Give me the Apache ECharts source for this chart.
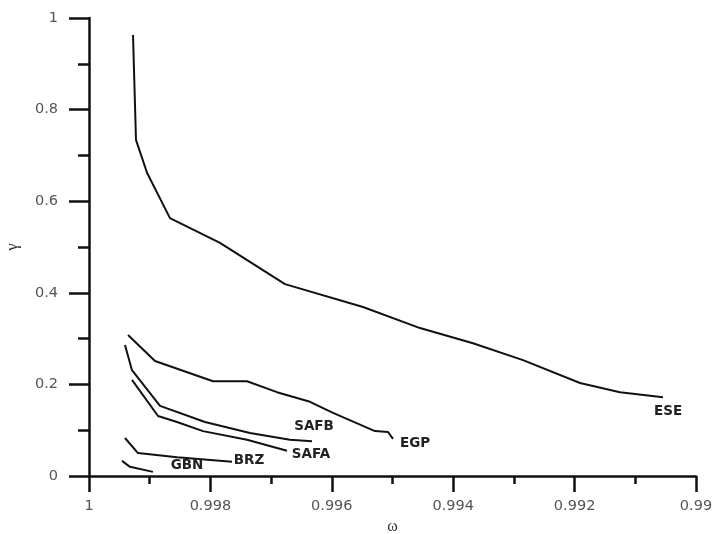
<!DOCTYPE html>
<html>
<head>
<meta charset="utf-8">
<script src="https://cdn.jsdelivr.net/npm/echarts@6/dist/echarts.min.js"></script>
<style>html,body{margin:0;padding:0;background:#fff}#c{width:712px;height:534px}</style>
</head>
<body>
<div id="c"></div>
<script>
// series values: [omega, gamma]
const ESE = [[0.999275,0.963],[0.999226,0.734],[0.999044,0.662],[0.998666,0.563],[0.997842,0.509],[0.996771,0.419],[0.995486,0.369],[0.994547,0.323],[0.993674,0.290],[0.992850,0.253],[0.991911,0.203],[0.991252,0.183],[0.990544,0.172]];
const EGP = [[0.999357,0.308],[0.998913,0.251],[0.997957,0.207],[0.997397,0.207],[0.996903,0.183],[0.996359,0.162],[0.995980,0.138],[0.995288,0.098],[0.995074,0.096],[0.994992,0.081]];
const SAFB = [[0.999407,0.286],[0.999292,0.231],[0.998830,0.153],[0.998089,0.118],[0.997348,0.094],[0.996689,0.079],[0.996326,0.076]];
const SAFA = [[0.999292,0.210],[0.998863,0.131],[0.998550,0.118],[0.998122,0.098],[0.997397,0.079],[0.996738,0.055]];
const BRZ = [[0.999407,0.083],[0.999193,0.050],[0.998550,0.041],[0.997644,0.031]];
const GBN = [[0.999456,0.033],[0.999325,0.020],[0.998946,0.009]];
const seriesNames = ['ESE','EGP','SAFB','SAFA','BRZ','GBN'];
const seriesData = [ESE, EGP, SAFB, SAFA, BRZ, GBN];
// label anchor positions in data space
const labelPos = [[0.990461,0.140],[0.994629,0.072],[0.996293,0.107],[0.996343,0.046],[0.997364,0.033],[0.998386,0.022]];
const xTicks = {min:0.99, max:1, interval:0.002};
const yTicks = {min:0, max:1, interval:0.2};

const chart = echarts.init(document.getElementById('c'));
const series = seriesData.map((d,i)=>({
  name: seriesNames[i], type:'line', data:d, symbol:'none', smooth:false,
  lineStyle:{color:'#111', width:2}, silent:true, animation:false,
  markPoint:{symbol:'circle', symbolSize:0, animation:false,
    data:[{coord:labelPos[i], value:seriesNames[i],
      label:{show:true, formatter:seriesNames[i], position:'inside', color:'#222',
        fontFamily:'DejaVu Sans, sans-serif', fontWeight:'bold', fontSize:13.5}}]}
}));
chart.setOption({
  animation:false,
  grid:{left:89, right:16, top:18, bottom:58, outerBoundsMode:'none', containLabel:false},
  xAxis:{type:'value', inverse:true, min:xTicks.min, max:xTicks.max, interval:xTicks.interval,
    name:'ω', nameLocation:'middle', nameGap:38,
    nameTextStyle:{fontFamily:'Liberation Serif, Times New Roman, serif', fontSize:16, color:'#333'},
    axisLine:{show:true, onZero:false, lineStyle:{color:'#111', width:2.5}},
    axisTick:{show:true, length:16, lineStyle:{color:'#111', width:2.5}},
    minorTick:{show:true, splitNumber:2, length:8, lineStyle:{color:'#111', width:2.5}},
    splitLine:{show:false},
    axisLabel:{margin:23, color:'#555', fontSize:14.5, fontFamily:'DejaVu Sans, sans-serif',
      formatter:v=>String(parseFloat(v.toFixed(3)))}
  },
  yAxis:{type:'value', min:yTicks.min, max:yTicks.max, interval:yTicks.interval,
    name:'γ', nameLocation:'middle', nameGap:68,
    nameTextStyle:{fontFamily:'Liberation Serif, Times New Roman, serif', fontSize:17, color:'#333'},
    axisLine:{show:true, onZero:false, lineStyle:{color:'#111', width:2.5}},
    axisTick:{show:true, length:20, lineStyle:{color:'#111', width:2.5}},
    minorTick:{show:true, splitNumber:2, length:11, lineStyle:{color:'#111', width:2.5}},
    splitLine:{show:false},
    axisLabel:{margin:31, color:'#555', fontSize:14.5, fontFamily:'DejaVu Sans, sans-serif',
      formatter:v=>String(parseFloat(v.toFixed(2)))}
  },
  series: series
});
</script>
</body>
</html>
